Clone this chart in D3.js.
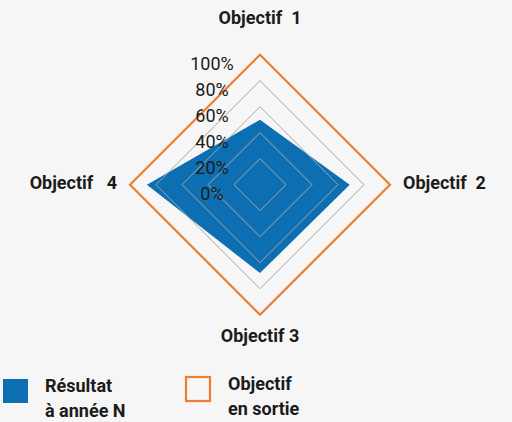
<!DOCTYPE html>
<html>
<head>
<meta charset="utf-8">
<script src="https://cdn.jsdelivr.net/npm/d3@7"></script>
<style>
	body { margin: 0; background: #f6f6f6; }
	svg { display: block; font-family: Roboto, sans-serif; }
</style>
</head>
<body>
<div id="chart"></div>
<script>
var svgWidth = 512;
var svgHeight = 422;
var cx = 260;
var cy = 184.7;
var maxRadius = 130;

// data
var axes = ["Objectif\u00a0\u00a01", "Objectif\u00a0\u00a02", "Objectif 3", "Objectif\u00a0\u00a0\u00a04"];
var resultat = [0.50, 0.69, 0.68, 0.87];
var objectif = [1, 1, 1, 1];
var ticks = [0, 0.2, 0.4, 0.6, 0.8, 1];
var tickLabels = ["0%", "20%", "40%", "60%", "80%", "100%"];
var legendLabels = [["Résultat", "à année N"], ["Objectif", "en sortie"]];

var blue = "#0d6fb2";
var orange = "#ee7d31";
var textColor = "#1b1b1b";

var rScale = d3.scaleLinear().domain([0, 1]).range([0, maxRadius]);
var angle = function(i) { return i * 2 * Math.PI / axes.length; };

var svg = d3.select("#chart")
	.append("svg")
	.attr("width", svgWidth)
	.attr("height", svgHeight)
	.style("background-color", "#f6f6f6");

var g = svg.append("g").attr("transform", "translate(" + cx + "," + cy + ")");

var radarLine = d3.lineRadial()
	.angle(function(d, i) { return angle(i); })
	.radius(function(d) { return rScale(d); })
	.curve(d3.curveLinearClosed);

var ringData = function(t) { return axes.map(function() { return t; }); };

// result series
g.append("path")
	.attr("d", radarLine(resultat))
	.attr("fill", blue);

// grid rings (seen through the fill)
g.selectAll("path.grid")
	.data(ticks.slice(1, -1))
	.enter()
	.append("path")
	.attr("class", "grid")
	.attr("d", function(t) { return radarLine(ringData(t)); })
	.attr("fill", "none")
	.attr("stroke", "#a6a6a6")
	.attr("stroke-width", 1);

// objective series
g.append("path")
	.attr("d", radarLine(objectif))
	.attr("fill", "none")
	.attr("stroke", orange)
	.attr("stroke-width", 2.2);

// tick labels
g.selectAll("text.tick")
	.data(ticks)
	.enter()
	.append("text")
	.attr("class", "tick")
	.attr("x", -48)
	.attr("y", function(t) { return -rScale(t) + 9; })
	.attr("dy", "0.35em")
	.attr("text-anchor", "middle")
	.attr("fill", textColor)
	.style("font-size", "18px")
	.text(function(t, i) { return tickLabels[i]; });

// axis labels
var labelPos = [
	{x: 0, y: -167, anchor: "middle"},
	{x: 143, y: -2, anchor: "start"},
	{x: 0, y: 151, anchor: "middle"},
	{x: -143, y: -2, anchor: "end"}
];
g.selectAll("text.axis")
	.data(axes)
	.enter()
	.append("text")
	.attr("class", "axis")
	.attr("x", function(d, i) { return labelPos[i].x; })
	.attr("y", function(d, i) { return labelPos[i].y; })
	.attr("dy", "0.35em")
	.attr("text-anchor", function(d, i) { return labelPos[i].anchor; })
	.attr("fill", textColor)
	.style("font-size", "18px")
	.style("font-weight", "bold")
	.text(function(d) { return d; });

// legend
var legend = svg.append("g");
legend.append("rect")
	.attr("x", 3).attr("y", 379)
	.attr("width", 25).attr("height", 24)
	.attr("fill", blue);
legend.append("rect")
	.attr("x", 186).attr("y", 377)
	.attr("width", 24).attr("height", 24)
	.attr("fill", "none")
	.attr("stroke", orange)
	.attr("stroke-width", 2.2);

var legendX = [45, 228];
var legendY = [392, 390];
legendLabels.forEach(function(lines, i) {
	var t = legend.append("text")
		.attr("fill", textColor)
		.style("font-size", "18px")
		.style("font-weight", "bold");
	lines.forEach(function(line, j) {
		t.append("tspan")
			.attr("x", legendX[i])
			.attr("y", legendY[i] + j * 25)
			.text(line);
	});
});
</script>
</body>
</html>
